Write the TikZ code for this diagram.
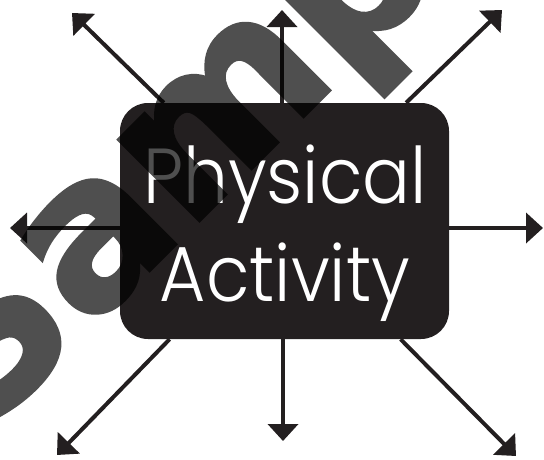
\documentclass[tikz,border=0pt]{standalone}
\usepackage{fontspec}
\usetikzlibrary{arrows.meta}
\newfontfamily\popl{Poppins}[UprightFont={* Light}, FakeStretch=0.91]
\newfontfamily\wmfont{DejaVu Sans}[BoldFeatures={FakeBold=1.6}]
\definecolor{ink}{HTML}{231F20}
\tikzset{
  boxstyle/.style={fill=ink, draw=none, rounded corners=28pt, minimum width=329pt, minimum height=236pt, inner sep=0pt},
  labelstyle/.style={text=white, align=center, inner sep=0pt, font={\popl\fontsize{78}{98}\selectfont}},
  ray/.style={draw=ink, line width=4pt, -{Triangle[length=17pt,width=30pt]}},
  wmstyle/.style={text=black, inner sep=0pt, font={\wmfont\bfseries\fontsize{209}{250}\selectfont}}
}
\begin{document}
\begin{tikzpicture}[x=1pt,y=-1pt]
\useasboundingbox (0,0) rectangle (544,459);
\node[boxstyle] (pa) at (284.5,221) {};
\node[labelstyle] (pat) at (285,233) {Physical\\Activity};
\coordinate (tN) at (282,10);
\coordinate (tS) at (283,441);
\coordinate (tW) at (10,228);
\coordinate (tE) at (543,228);
\coordinate (tNW) at (72,13);
\coordinate (tNE) at (502,10);
\coordinate (tSE) at (516,456);
\coordinate (tSW) at (57,455);
\draw[ray] (pa.north -| tN) -- (tN);
\draw[ray] (pa.south -| tS) -- (tS);
\draw[ray] (pa.west |- tW) -- (tW);
\draw[ray] (pa.east |- tE) -- (tE);
\draw[ray] (pa) -- (tNW);
\draw[ray] (pa) -- (tNE);
\draw[ray] (pa) -- (tSE);
\draw[ray] (pa) -- (tSW);
\begin{scope}[transparency group, opacity=0.69]
\node[wmstyle, rotate=45, anchor=base west] (wmk) at (-19,439) {Sample};
\end{scope}
\end{tikzpicture}
\end{document}
